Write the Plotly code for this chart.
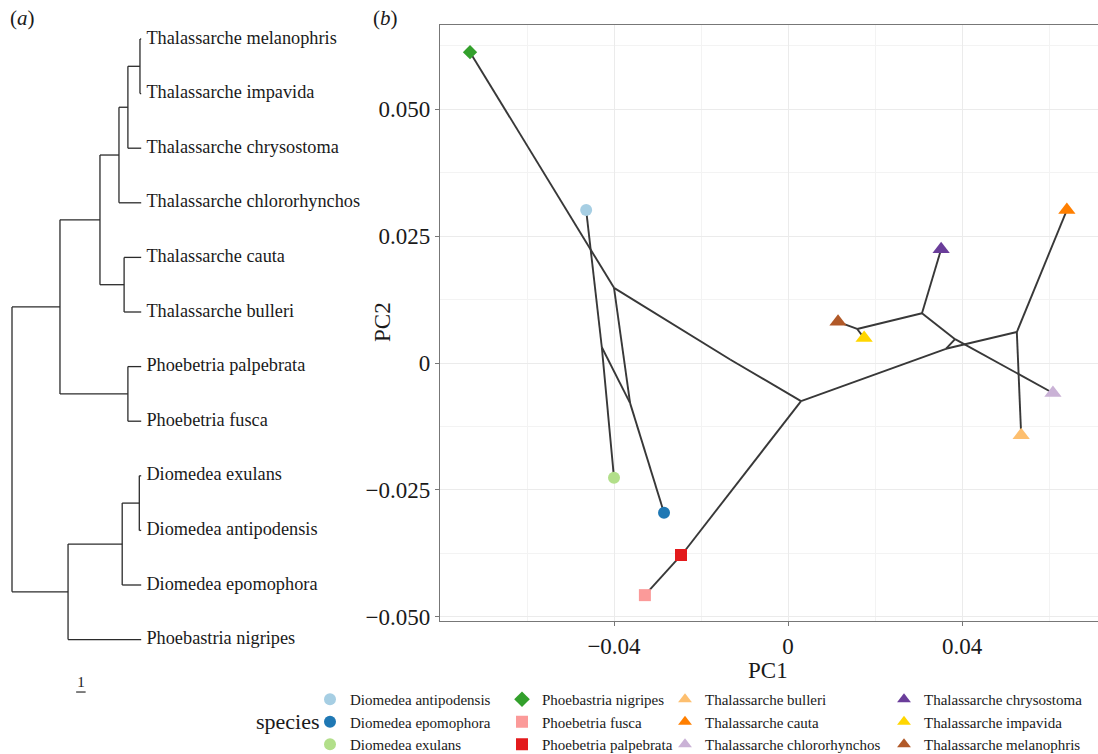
import plotly.graph_objects as go

# ---------------- data ----------------
species = ["Diomedea antipodensis", "Diomedea epomophora", "Diomedea exulans",
           "Phoebastria nigripes", "Phoebetria fusca", "Phoebetria palpebrata",
           "Thalassarche bulleri", "Thalassarche cauta", "Thalassarche chlororhynchos",
           "Thalassarche chrysostoma", "Thalassarche impavida", "Thalassarche melanophris"]
pc1 = [-0.0464, -0.0285, -0.0400, -0.0731, -0.0329, -0.0246,
       0.0536, 0.0641, 0.0609, 0.0352, 0.0175, 0.0115]
pc2 = [0.0301, -0.0295, -0.0226, 0.0612, -0.0457, -0.0378,
       -0.0142, 0.0301, -0.0059, 0.0224, 0.0049, 0.0081]
colors = ["#A6CEE3", "#1F78B4", "#B2DF8A", "#33A02C", "#FB9A99", "#E31A1C",
          "#FDBF6F", "#FF7F00", "#CAB2D6", "#6A3D9A", "#FFD600", "#B15928"]
symbols = ["circle", "circle", "circle", "diamond", "square", "square",
           "triangle-up", "triangle-up", "triangle-up", "triangle-up", "triangle-up", "triangle-up"]
sizes = [12, 12, 12, 11, 12, 12, 15, 15, 15, 15, 15, 15]

# internal (ancestral) nodes
node_names = ["root", "TP", "Thal", "MICC", "MIC", "MI", "CB", "P", "DN", "EAE", "EA"]
node_pc1 = [-0.0133, 0.0030, 0.0363, 0.0384, 0.0308, 0.0159, 0.0526, -0.0241, -0.0400, -0.0363, -0.0428]
node_pc2 = [0.0007, -0.0075, 0.0028, 0.0047, 0.0098, 0.0067, 0.0061, -0.0374, 0.0148, -0.0079, 0.0031]
node_depth = [0.0, 5.05, 9.26, 11.26, 12.2, 13.47, 11.8, 12.2, 5.9, 11.6, 13.4]

# tree tip order (top to bottom) and tip depth
tip_order = ["Thalassarche melanophris", "Thalassarche impavida", "Thalassarche chrysostoma",
             "Thalassarche chlororhynchos", "Thalassarche cauta", "Thalassarche bulleri",
             "Phoebetria palpebrata", "Phoebetria fusca", "Diomedea exulans",
             "Diomedea antipodensis", "Diomedea epomophora", "Phoebastria nigripes"]
tip_depth = 13.6

edges = [("root", "TP"), ("root", "DN"),
         ("TP", "Thal"), ("TP", "P"),
         ("Thal", "MICC"), ("Thal", "CB"),
         ("MICC", "MIC"), ("MICC", "Thalassarche chlororhynchos"),
         ("MIC", "MI"), ("MIC", "Thalassarche chrysostoma"),
         ("MI", "Thalassarche melanophris"), ("MI", "Thalassarche impavida"),
         ("CB", "Thalassarche cauta"), ("CB", "Thalassarche bulleri"),
         ("P", "Phoebetria palpebrata"), ("P", "Phoebetria fusca"),
         ("DN", "EAE"), ("DN", "Phoebastria nigripes"),
         ("EAE", "EA"), ("EAE", "Diomedea epomophora"),
         ("EA", "Diomedea exulans"), ("EA", "Diomedea antipodensis")]

scale_len = 1
x_ticks = [-0.04, 0, 0.04]
x_ticktext = ["\u22120.04", "0", "0.04"]
y_ticks = [-0.05, -0.025, 0, 0.025, 0.05]
y_ticktext = ["\u22120.050", "\u22120.025", "0", "0.025", "0.050"]

# ---------------- derived ----------------
W, H = 1098, 754
pos = {}
for n, a, b in zip(species, pc1, pc2):
    pos[n] = (a, b)
for n, a, b in zip(node_names, node_pc1, node_pc2):
    pos[n] = (a, b)

depth = {n: tip_depth for n in tip_order}
depth.update({n: d for n, d in zip(node_names, node_depth)})
children = {}
for p, c in edges:
    children.setdefault(p, []).append(c)
ypos = {n: i + 1 for i, n in enumerate(tip_order)}


def get_y(n):
    if n not in ypos:
        ys = [get_y(c) for c in children[n]]
        ypos[n] = sum(ys) / len(ys)
    return ypos[n]


get_y("root")

fig = go.Figure()

# ---- panel (a): phylogram ----
tx, ty = [], []
for p, c in edges:
    tx += [depth[p], depth[c], None]
    ty += [ypos[c], ypos[c], None]
for n, ch in children.items():
    ys = [ypos[c] for c in ch]
    tx += [depth[n], depth[n], None]
    ty += [min(ys), max(ys), None]
fig.add_trace(go.Scatter(x=tx, y=ty, mode="lines", xaxis="x2", yaxis="y2",
                         line=dict(color="#2b2b2b", width=1.3), showlegend=False,
                         hoverinfo="skip"))
fig.add_trace(go.Scatter(x=[tip_depth + 0.55] * len(tip_order), y=[ypos[n] for n in tip_order],
                         text=tip_order, mode="text", textposition="middle right",
                         textfont=dict(family="Liberation Serif", size=18.3, color="#1a1a1a"),
                         xaxis="x2", yaxis="y2", showlegend=False, hoverinfo="skip"))
# scale bar
sb_x0, sb_y = 6.75, 12.96
fig.add_trace(go.Scatter(x=[sb_x0, sb_x0 + scale_len], y=[sb_y, sb_y], mode="lines",
                         xaxis="x2", yaxis="y2", line=dict(color="#2b2b2b", width=1.2),
                         showlegend=False, hoverinfo="skip"))
fig.add_trace(go.Scatter(x=[sb_x0 + scale_len / 2], y=[sb_y - 0.03], text=[str(scale_len)],
                         mode="text", textposition="top center",
                         textfont=dict(family="Liberation Serif", size=15, color="#1a1a1a"),
                         xaxis="x2", yaxis="y2", showlegend=False, hoverinfo="skip"))

# ---- panel (b): phylomorphospace ----
ex, ey = [], []
for p, c in edges:
    ex += [pos[p][0], pos[c][0], None]
    ey += [pos[p][1], pos[c][1], None]
fig.add_trace(go.Scatter(x=ex, y=ey, mode="lines", line=dict(color="#383838", width=1.9),
                         showlegend=False, hoverinfo="skip"))

for i, n in enumerate(species):
    fig.add_trace(go.Scatter(
        x=[pc1[i]], y=[pc2[i]], mode="markers", name=n,
        marker=dict(color=colors[i], symbol=symbols[i], size=sizes[i], line=dict(width=0)),
        legend=["legend", "legend2", "legend3", "legend4"][i // 3]))

serif = "Liberation Serif"
text_starts = [351, 543, 706, 925]
leg_common = dict(font=dict(family=serif, size=15, color="#1a1a1a"), bgcolor="rgba(0,0,0,0)",
                  itemsizing="constant", orientation="v", yanchor="top", xanchor="left",
                  tracegroupgap=0, borderwidth=0)
legends = {}
for k, ts in enumerate(text_starts):
    key = "legend" if k == 0 else f"legend{k + 1}"
    legends[key] = dict(leg_common, x=(ts - 41) / W, y=1 - 683 / H)

x_range = [-0.0800, 0.07126]
y_range = [-0.05079, 0.06654]

fig.update_layout(
    width=W, height=H, margin=dict(l=0, r=0, t=0, b=0, autoexpand=False),
    paper_bgcolor="white", plot_bgcolor="white",
    font=dict(family=serif, color="#1a1a1a"),
    xaxis=dict(domain=[440 / W, 1.0], range=x_range, tickvals=x_ticks, ticktext=x_ticktext,
               showgrid=True, gridcolor="#EBEBEB", gridwidth=1, zeroline=False,
               minor=dict(dtick=0.02, tick0=0, showgrid=True, gridcolor="#F3F3F3", gridwidth=1),
               showline=True, linecolor="#777777", linewidth=1.2, mirror=True,
               ticks="outside", ticklen=4, tickcolor="#777777",
               tickfont=dict(family=serif, size=23, color="#1a1a1a")),
    yaxis=dict(domain=[1 - 621 / H, 1 - 25 / H], range=y_range, tickvals=y_ticks, ticktext=y_ticktext,
               showgrid=True, gridcolor="#EBEBEB", gridwidth=1, zeroline=False,
               minor=dict(dtick=0.0125, tick0=0, showgrid=True, gridcolor="#F3F3F3", gridwidth=1),
               showline=True, linecolor="#777777", linewidth=1.2, mirror=False,
               ticks="outside", ticklen=4, tickcolor="#777777",
               tickfont=dict(family=serif, size=23, color="#1a1a1a")),
    xaxis2=dict(domain=[0, 0.33], range=[-12 / 9.5, (0.33 * W - 12) / 9.5], visible=False),
    yaxis2=dict(domain=[0, 1], range=[1 + (H - 39) / 54.6, 1 - 39 / 54.6], visible=False),
    annotations=[
        dict(text="(<i>a</i>)", x=8 / W, y=1 - 18 / H, xref="paper", yref="paper",
             xanchor="left", yanchor="middle", showarrow=False, font=dict(family=serif, size=21)),
        dict(text="(<i>b</i>)", x=371 / W, y=1 - 18 / H, xref="paper", yref="paper",
             xanchor="left", yanchor="middle", showarrow=False, font=dict(family=serif, size=21)),
        dict(text="PC1", x=768 / W, y=1 - 670 / H, xref="paper", yref="paper",
             xanchor="center", yanchor="middle", showarrow=False, font=dict(family=serif, size=23)),
        dict(text="PC2", x=382 / W, y=1 - 322 / H, xref="paper", yref="paper", textangle=-90,
             xanchor="center", yanchor="middle", showarrow=False, font=dict(family=serif, size=23)),
        dict(text="species", x=288 / W, y=1 - 721 / H, xref="paper", yref="paper",
             xanchor="center", yanchor="middle", showarrow=False, font=dict(family=serif, size=22)),
    ],
    **legends,
)

fig.write_html("out.html")
